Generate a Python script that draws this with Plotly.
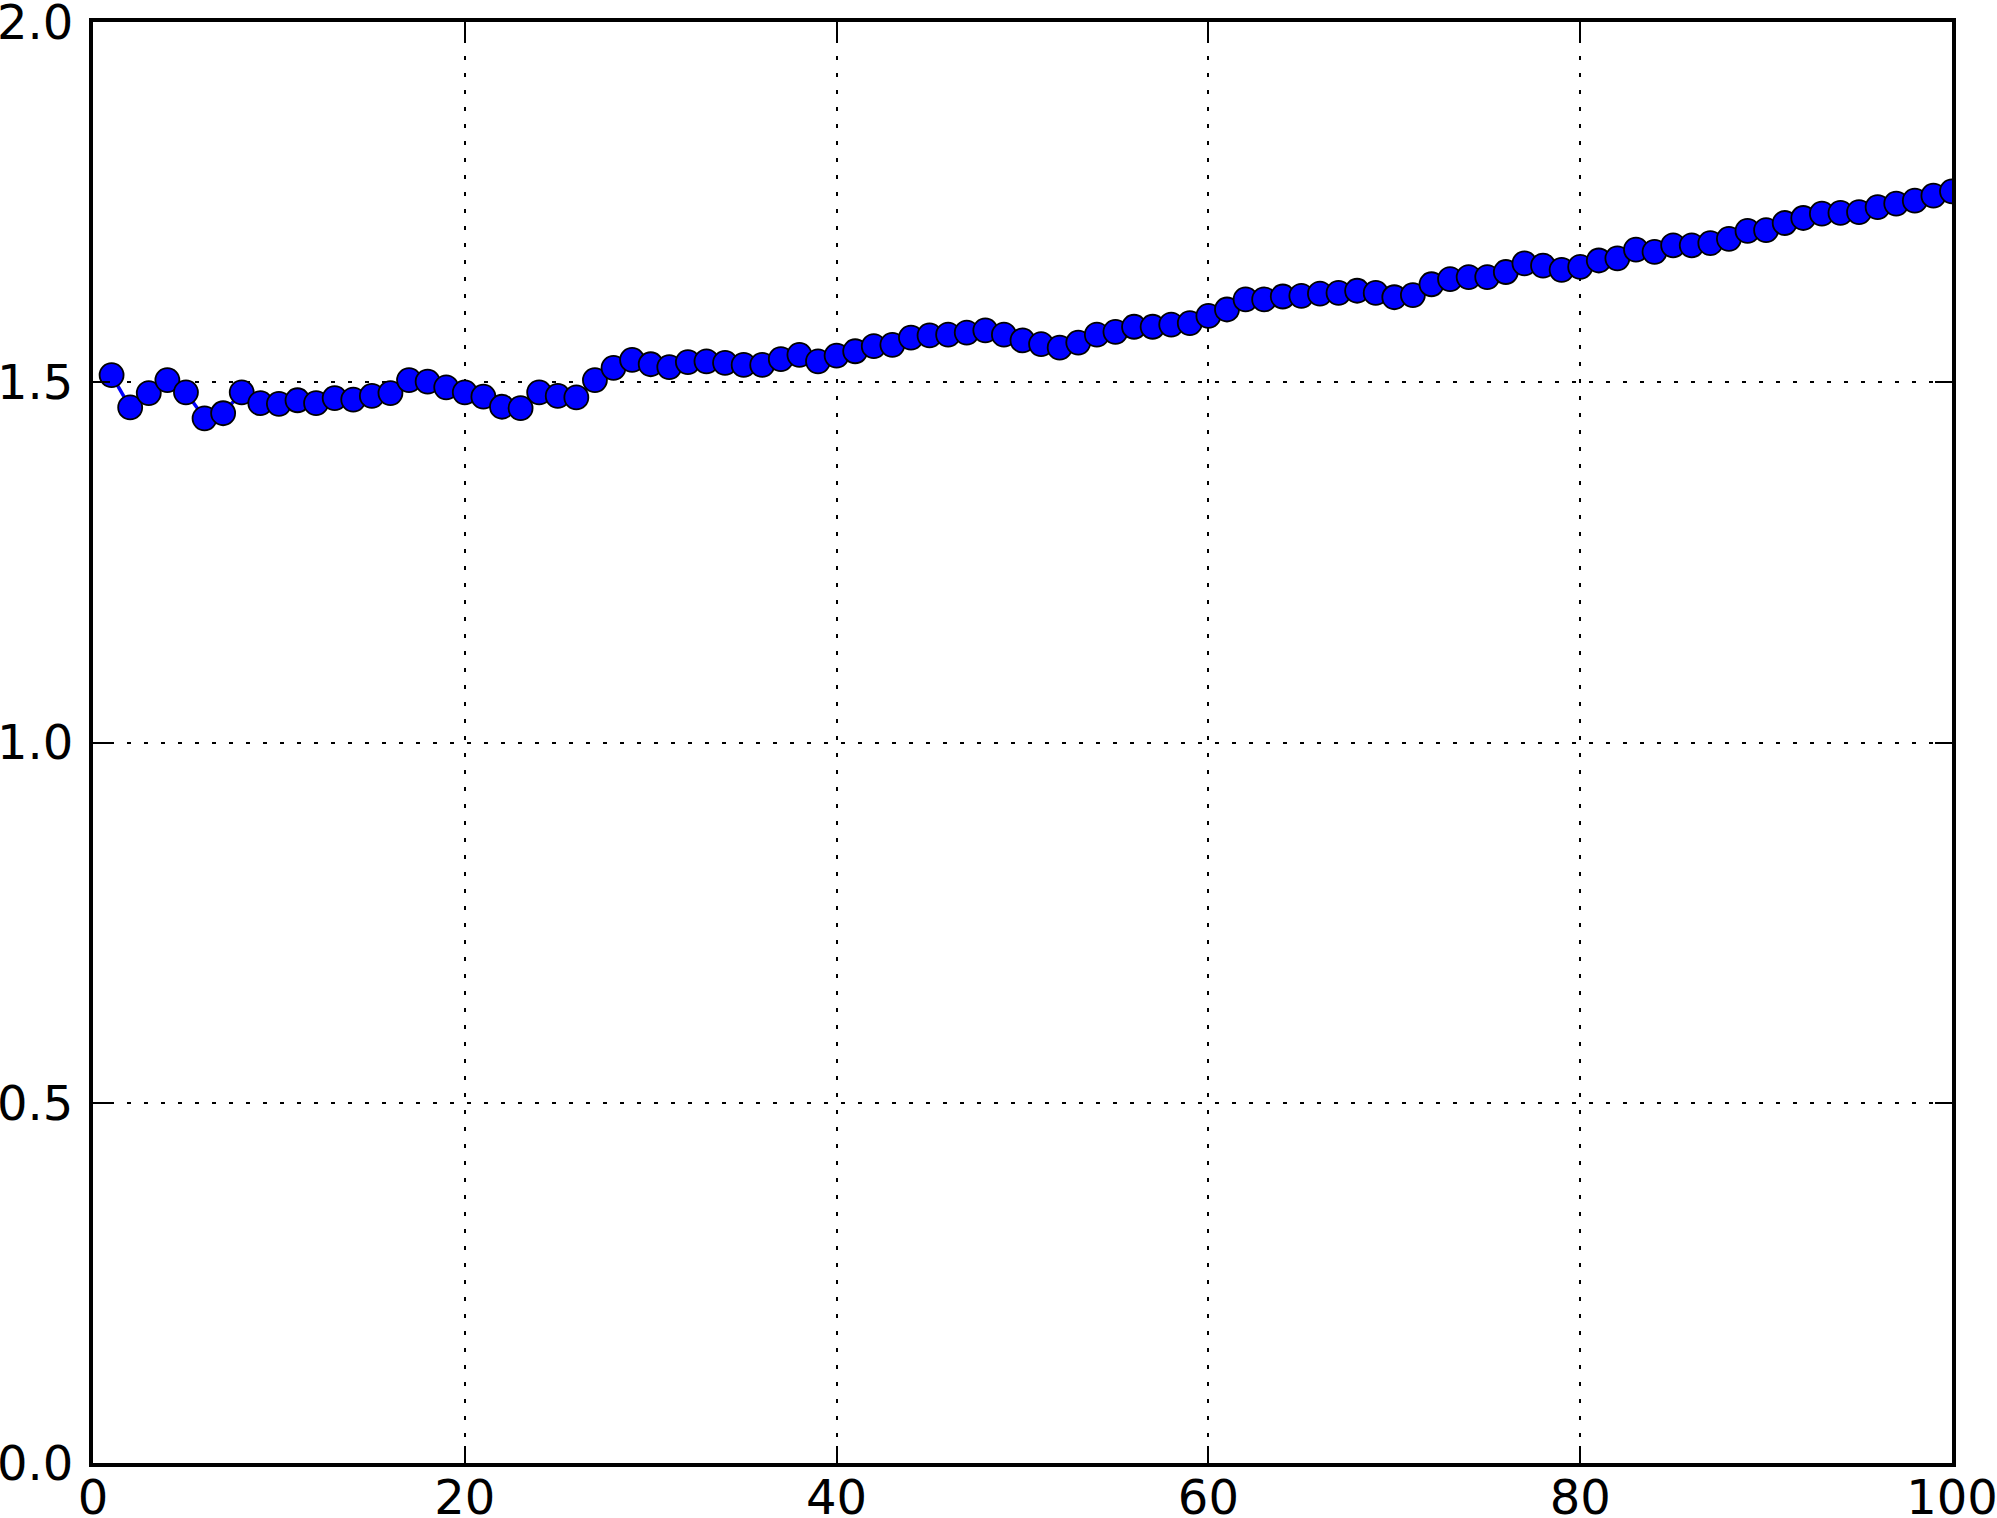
import plotly.graph_objects as go

# Índice de cada punto (1..100)
indices = list(range(1, 101))

# Valores
valores = [
    1.510, 1.465, 1.485, 1.503, 1.486, 1.450, 1.457, 1.486, 1.471, 1.470,
    1.475, 1.471, 1.478, 1.476, 1.481, 1.485, 1.503, 1.501, 1.493, 1.486,
    1.480, 1.466, 1.464, 1.486, 1.481, 1.479, 1.503, 1.520, 1.531, 1.525,
    1.521, 1.528, 1.529, 1.527, 1.524, 1.524, 1.532, 1.538, 1.529, 1.537,
    1.543, 1.550, 1.552, 1.562, 1.565, 1.566, 1.569, 1.572, 1.566, 1.558,
    1.553, 1.548, 1.555, 1.566, 1.570, 1.577, 1.577, 1.580, 1.582, 1.592,
    1.601, 1.615, 1.615, 1.619, 1.620, 1.623, 1.624, 1.627, 1.624, 1.618,
    1.621, 1.636, 1.643, 1.646, 1.646, 1.653, 1.665, 1.662, 1.656, 1.660,
    1.669, 1.672, 1.684, 1.681, 1.690, 1.690, 1.693, 1.699, 1.710, 1.711,
    1.721, 1.728, 1.734, 1.735, 1.736, 1.743, 1.748, 1.752, 1.759, 1.765,
]

x_ticks = [0, 20, 40, 60, 80, 100]
y_ticks = [0.0, 0.5, 1.0, 1.5, 2.0]
y_labels = ["0.0", "0.5", "1.0", "1.5", "2.0"]


def main():
    fig = go.Figure()

    fig.add_trace(
        go.Scatter(
            x=indices,
            y=valores,
            mode="lines+markers",
            line_color="#0000ff",
            line_width=3.5,
            marker_size=24,
            marker_color="#0000ff",
            marker_line_color="#000000",
            marker_line_width=1.8,
            showlegend=False,
        )
    )

    ejes = dict(
        showline=True,
        linecolor="#000000",
        linewidth=4,
        mirror="ticks",
        ticks="inside",
        ticklen=17,
        tickwidth=2,
        tickcolor="#000000",
        showgrid=True,
        gridcolor="#000000",
        gridwidth=2,
        griddash="4px,13px",
        zeroline=False,
        tickfont_size=48,
        automargin=False,
        ticklabeloverflow="allow",
    )

    fig.update_xaxes(
        range=[0, 100],
        tickvals=x_ticks,
        ticklabelstandoff=-11,
        **ejes,
    )

    fig.update_yaxes(
        range=[0, 2],
        tickvals=y_ticks,
        ticktext=y_labels,
        ticklabelstandoff=6,
        **ejes,
    )

    fig.update_layout(
        width=1997,
        height=1518,
        font_family="DejaVu Sans",
        font_color="#000000",
        plot_bgcolor="#ffffff",
        paper_bgcolor="#ffffff",
        margin_l=93,
        margin_r=45,
        margin_t=22,
        margin_b=55,
    )

    fig.write_html(
        "out.html",
        config={"displayModeBar": False},
        post_script="document.body.style.margin='0';",
    )


if __name__ == "__main__":
    main()
